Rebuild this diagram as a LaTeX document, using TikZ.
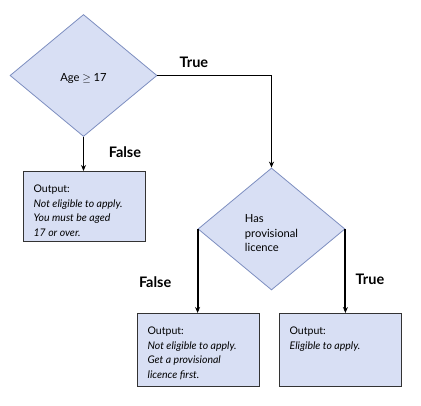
\documentclass[tikz,border=0pt]{standalone}
\usepackage{fontspec}
\setmainfont{Lato}
\usetikzlibrary{shapes.geometric,arrows.meta,positioning}
\definecolor{boxfill}{RGB}{216,223,244}
\definecolor{diaedge}{RGB}{125,142,192}
\newcommand{\flowwidth}{1.9pt}
\newcommand{\outtext}[2]{\parbox[t][#1][t]{102pt}{Output:\\\textit{#2}}}

\begin{document}
\begin{tikzpicture}[x=1pt,y=-1pt,
  decision/.style={diamond, draw=diaedge, fill=boxfill, line width=0.8pt, minimum width=147pt, minimum height=122pt, inner sep=0pt},
  dtext/.style={align=left, font=\fontsize{11.2}{14.5}\selectfont},
  outbox/.style={rectangle, draw=black!80, fill=boxfill, line width=1.3pt, anchor=north west, inner xsep=10pt, inner ysep=13pt, font=\fontsize{10.5}{14.8}\selectfont},
  flow/.style={line width=\flowwidth, -{Stealth[length=6pt,width=5pt]}},
  lbl/.style={font=\bfseries\fontsize{14.5}{16}\selectfont}]
\useasboundingbox (0,0) rectangle (421,406);
% decisions
\node[decision, label={[dtext, yshift=-3.5pt]center:Age \ensuremath{\geq} 17}] (age) at (83.5,75.5) {};
\node[decision, label={[dtext, yshift=-4.5pt]center:Has\\provisional\\licence}] (prov) at (271.5,229) {};
% outputs
\node[outbox] (notage) at (23,171) {\outtext{44pt}{Not eligible to apply.\\You must be aged\\17 or over.}};
\node[outbox] (notprov) at (137,313) {\outtext{47pt}{Not eligible to apply.\\Get a provisional\\licence first.}};
\node[outbox] (eligible) at (279,313) {\outtext{47pt}{Eligible to apply.}};
% connectors
\draw[flow] (age.south) -- node[lbl, right=21pt, pos=0.45] {False} (age.south |- notage.north);
\draw[flow] (age.east) -- node[lbl, above=3.5pt, pos=0.32] {True} (age.east -| prov.north) -- (prov.north);
\draw[flow] (prov.west) -- node[lbl, left=22pt, pos=0.63] {False} (prov.west |- notprov.north);
\draw[flow] (prov.east) -- node[lbl, right=6pt, pos=0.6] {True} (prov.east |- eligible.north);
\end{tikzpicture}
\end{document}
